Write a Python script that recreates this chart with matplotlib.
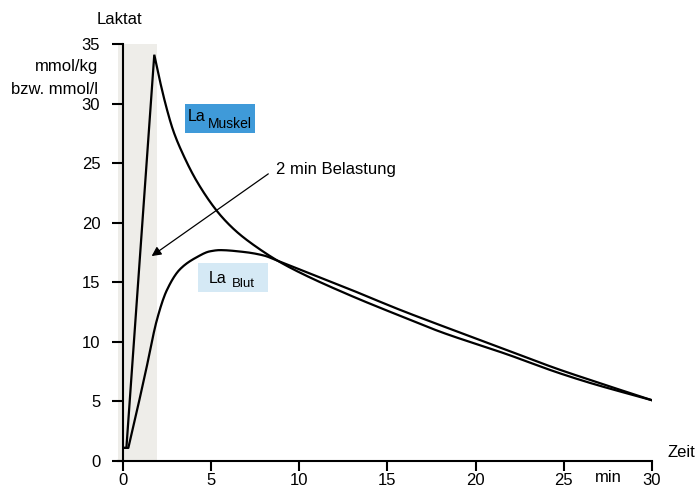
import numpy as np
import matplotlib
matplotlib.use("Agg")
import matplotlib.pyplot as plt
from matplotlib.patches import Rectangle

plt.rcParams['font.family'] = ['Liberation Sans', 'DejaVu Sans']

# Lactate in muscle (mmol/kg) after a 2-minute exercise bout
muscle_t = [0.05, 0.22, 1.8, 2.12, 2.5, 2.88, 3.44, 4.2, 5.34, 6.0, 6.66, 7.7, 8.8,
            10.0, 12.9, 15.7, 18.0, 21.8, 24.6, 26.5, 30.0]
muscle_la = [1.1, 1.1, 34.1, 31.9, 29.6, 27.7, 25.7, 23.5, 21.0, 19.9, 19.0, 17.85, 16.8,
             15.85, 13.9, 12.2, 10.85, 8.95, 7.45, 6.55, 5.1]

# Lactate in blood (mmol/l)
blood_t = [0.05, 0.33, 0.8, 1.37, 1.94, 2.5, 3.26, 4.2, 4.96, 5.52, 6.85, 8.0, 8.8,
           10.0, 12.9, 15.7, 18.0, 21.8, 24.6, 26.5, 30.0]
blood_la = [1.1, 1.1, 4.1, 7.9, 11.8, 14.3, 16.1, 17.1, 17.6, 17.7, 17.55, 17.25, 16.8,
            16.1, 14.4, 12.7, 11.4, 9.3, 7.75, 6.8, 5.1]

exercise_span = (-0.25, 1.95)
x_ticks = [0, 5, 10, 15, 20, 25, 30]
y_ticks = [0, 5, 10, 15, 20, 25, 30, 35]


def pchip(x, y, xs):
    """Monotone piecewise cubic Hermite interpolation."""
    x = np.asarray(x, float)
    y = np.asarray(y, float)
    h = np.diff(x)
    d = np.diff(y) / h
    m = np.zeros_like(y)
    for k in range(1, len(x) - 1):
        if d[k - 1] * d[k] > 0:
            w1 = 2 * h[k] + h[k - 1]
            w2 = h[k] + 2 * h[k - 1]
            m[k] = (w1 + w2) / (w1 / d[k - 1] + w2 / d[k])
    m[0] = d[0]
    m[-1] = d[-1]
    idx = np.clip(np.searchsorted(x, xs) - 1, 0, len(h) - 1)
    t = (xs - x[idx]) / h[idx]
    h00 = 2 * t**3 - 3 * t**2 + 1
    h10 = t**3 - 2 * t**2 + t
    h01 = -2 * t**3 + 3 * t**2
    h11 = t**3 - t**2
    return (h00 * y[idx] + h10 * h[idx] * m[idx]
            + h01 * y[idx + 1] + h11 * h[idx] * m[idx + 1])


def curve(t, la, start, n=700):
    """Straight segments up to index `start`, smooth curve from there on."""
    xs = np.linspace(t[start], t[-1], n)
    ys = pchip(t[start:], la[start:], xs)
    return np.r_[t[:start], xs], np.r_[la[:start], ys]


FS = 12

fig = plt.figure(figsize=(6.99, 4.90), dpi=100)
ax = fig.add_axes([118.1 / 699, 29 / 490, (652 - 118.1) / 699, (461 - 44) / 490])
ax.set_xlim(exercise_span[0], 30)
ax.set_ylim(0, 35)

# exercise period
ax.axvspan(*exercise_span, color='#eeede9', lw=0, zorder=0)

# muscle curve: linear rise to the peak, smooth decay afterwards
mx, my = curve(muscle_t, muscle_la, int(np.argmax(muscle_la)))
ax.plot(mx, my, color='black', lw=1.6, solid_joinstyle='miter', zorder=3)

# blood curve: short flat start, then smooth
bx, by = curve(blood_t, blood_la, 1)
ax.plot(bx, by, color='black', lw=1.6, zorder=3)

# axes styling
for s in ('top', 'right'):
    ax.spines[s].set_visible(False)
ax.spines['left'].set_position(('data', 0))
ax.spines['left'].set_linewidth(1.5)
ax.spines['bottom'].set_linewidth(1.5)
ax.set_xticks(x_ticks)
ax.set_yticks(y_ticks)
ax.tick_params(axis='y', direction='out', length=8, width=1.5, pad=8, labelsize=FS)
ax.tick_params(axis='x', direction='out', length=7, width=1.5, pad=1.5, labelsize=FS)

# axis titles
fig.text(119 / 699, 1 - 20 / 490, 'Laktat', ha='center', va='center', fontsize=FS)
fig.text(98 / 699, 1 - 66 / 490, 'mmol/kg', ha='right', va='center', fontsize=FS)
fig.text(98 / 699, 1 - 89 / 490, 'bzw. mmol/l', ha='right', va='center', fontsize=FS)
ax.annotate('min', xy=(27.5, 0), xytext=(0, -6.5), textcoords='offset points',
            ha='center', va='top', fontsize=FS)
ax.annotate('Zeit', xy=(30, 0), xytext=(11, 6), textcoords='offset points',
            ha='left', va='center', fontsize=FS, annotation_clip=False)

# curve labels
ax.add_patch(Rectangle((3.54, 27.5), 3.95, 2.5, facecolor='#3f9ad9', edgecolor='none', zorder=2))
ax.text(3.71, 28.55, 'La', fontsize=11.5, va='baseline', zorder=4)
ax.text(4.84, 27.95, 'Muskel', fontsize=10, va='baseline', zorder=4)

ax.add_patch(Rectangle((4.29, 14.2), 3.95, 2.4, facecolor='#d5e9f5', edgecolor='none', zorder=2))
ax.text(4.86, 14.95, 'La', fontsize=11.5, va='baseline', zorder=4)
ax.text(6.19, 14.6, 'Blut', fontsize=9.5, va='baseline', zorder=4)

# annotation for the exercise bout
ax.annotate('', xy=(1.65, 17.2), xytext=(8.26, 24.1),
            arrowprops=dict(arrowstyle='-|>', color='black', lw=0.9,
                            mutation_scale=14, shrinkA=0, shrinkB=0), zorder=4)
ax.text(8.7, 24.5, '2 min Belastung', fontsize=FS, ha='left', va='center', zorder=4)

fig.savefig('out.png', dpi=100)
